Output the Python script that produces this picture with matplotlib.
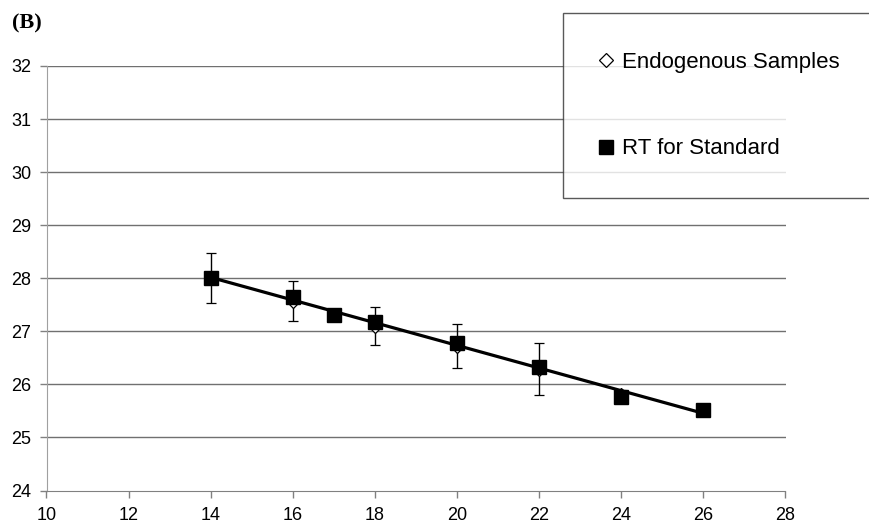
import numpy as np
import matplotlib
import matplotlib.pyplot as plt
from matplotlib.lines import Line2D

matplotlib.use('Agg')

# standards (RT for Standard)
std_x = [14, 16, 17, 18, 20, 22, 24, 26]
std_y = [28.0, 27.65, 27.3, 27.18, 26.78, 26.33, 25.76, 25.52]

# endogenous samples with error bars
endo_x = [14, 16, 18, 20, 22, 24]
endo_y = [28.0, 27.57, 27.1, 26.72, 26.29, 25.8]
endo_err = [0.47, 0.38, 0.36, 0.42, 0.49, 0.1]

x_ticks = [10, 12, 14, 16, 18, 20, 22, 24, 26, 28]
y_ticks = [24, 25, 26, 27, 28, 29, 30, 31, 32]

grid_color = '#707070'
font = 'Liberation Sans'

fig = plt.figure(figsize=(8.69, 5.24), dpi=100)
ax = fig.add_axes([46.5 / 869, 1 - 490.5 / 524, (785.5 - 46.5) / 869, (490.5 - 66) / 524])

for y in y_ticks[1:]:
    ax.axhline(y, color=grid_color, lw=1.0, zorder=1)

# trend line through the standards
coef = np.polyfit(std_x, std_y, 1)
line_x = np.array([min(std_x), max(std_x)])
ax.plot(line_x, np.polyval(coef, line_x), color='black', lw=2.3, zorder=3)

ax.errorbar(endo_x, endo_y, yerr=endo_err, fmt='D', ms=7, mfc='white', mec='black',
            mew=0.9, ecolor='black', elinewidth=1.0, capsize=3.5, capthick=1.0,
            zorder=2)
ax.plot(std_x, std_y, 's', ms=10.5, color='black', zorder=4)

ax.set_xlim(10, 28)
ax.set_ylim(24, 32)
ax.set_xticks(x_ticks)
ax.set_yticks(y_ticks)

for s in ['top', 'right']:
    ax.spines[s].set_visible(False)
ax.spines['left'].set_color('#a0a0a0')
ax.spines['bottom'].set_color('#808080')
ax.tick_params(axis='both', direction='out', length=5, width=1, color='#808080',
               labelsize=13)
ax.tick_params(axis='x', pad=7)
ax.tick_params(axis='y', pad=6)
for lab in ax.get_xticklabels() + ax.get_yticklabels():
    lab.set_fontfamily(font)

handles = [
    Line2D([], [], marker='D', ls='none', ms=7, mfc='white', mec='black', mew=0.9),
    Line2D([], [], marker='s', ls='none', ms=10.5, color='black'),
]
labels = ['Endogenous Samples', 'RT for Standard']
leg = fig.legend(handles, labels, loc='upper left',
                 bbox_to_anchor=(563 / 869, 1 - 13 / 524, 0.5, 0.0),
                 mode='expand', prop={'family': font, 'size': 16},
                 frameon=True, fancybox=False, edgecolor='#303030',
                 labelspacing=2.95, borderpad=1.75, handlelength=0.4,
                 handletextpad=0.5, borderaxespad=0)
leg.get_frame().set_linewidth(1.0)

fig.text(12 / 869, 1 - 23 / 524, '(B)', fontfamily='Liberation Serif',
         fontweight='bold', fontsize=16, va='center', ha='left')

fig.savefig('out.png', dpi=100)
